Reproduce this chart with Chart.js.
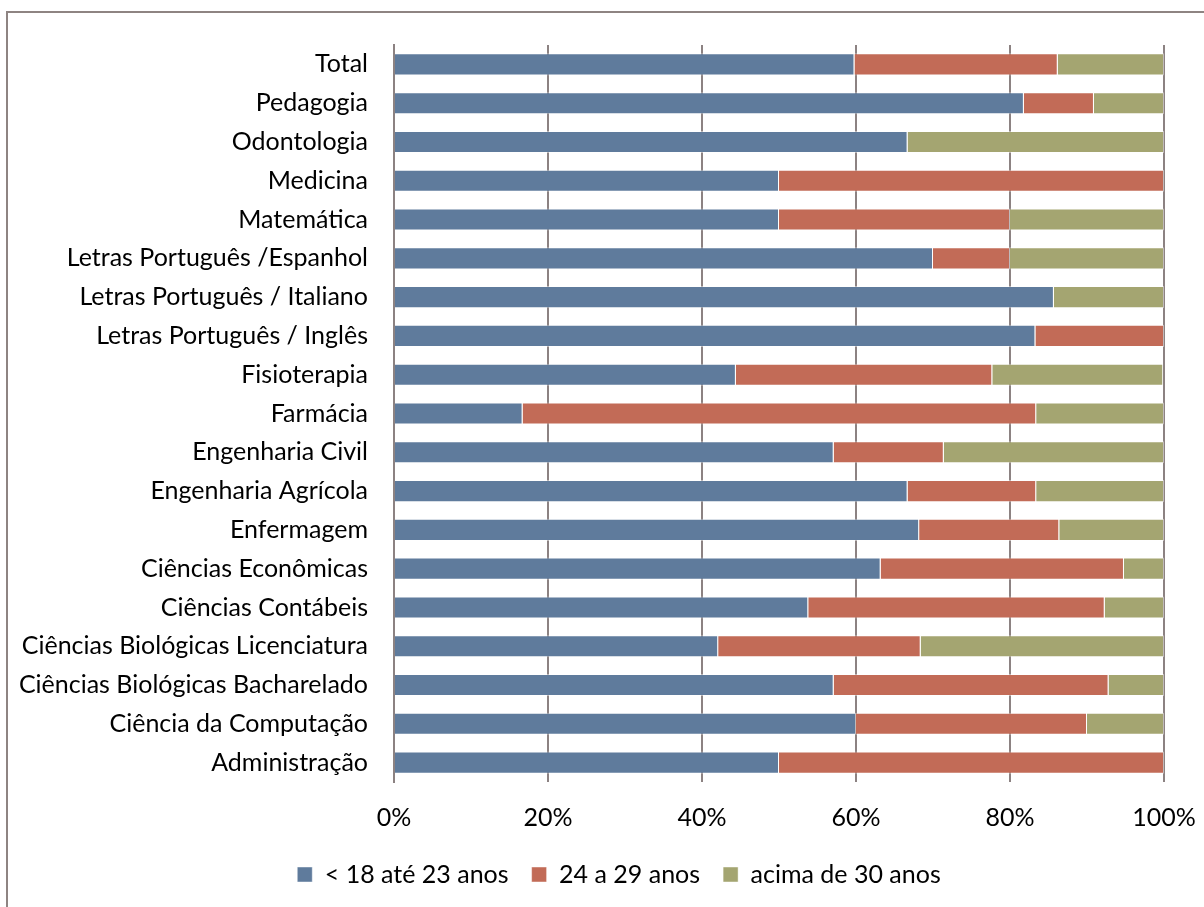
<!DOCTYPE html>
<html>
<head>
    <meta charset="UTF-8">
    <title>Faixa etária por curso</title>
    <script src="https://cdn.jsdelivr.net/npm/chart.js@4"></script>
    <style>
        html, body { margin: 0; padding: 0; background: #fff; overflow: hidden; }
        #frame { position: absolute; left: 6px; top: 11px; width: 1300px; height: 1000px; border: 2px solid #8e8482; }
        #chart { position: absolute; left: 0; top: 0; }
    </style>
</head>
<body>
    <div id="frame"></div>
    <canvas id="chart" width="1204" height="907"></canvas>
    <script>
        // cursos, de cima para baixo
        const cursos = [
            'Total', 'Pedagogia', 'Odontologia', 'Medicina', 'Matemática',
            'Letras Português /Espanhol', 'Letras Português / Italiano', 'Letras Português / Inglês',
            'Fisioterapia', 'Farmácia', 'Engenharia Civil', 'Engenharia Agrícola', 'Enfermagem',
            'Ciências Econômicas', 'Ciências Contábeis', 'Ciências Biológicas Licenciatura',
            'Ciências Biológicas Bacharelado', 'Ciência da Computação', 'Administração'
        ];
        const ate23 =    [59.8, 81.8, 66.7, 50, 50, 70, 85.7, 83.3, 44.4, 16.7, 57.1, 66.7, 68.2, 63.2, 53.8, 42.1, 57.1, 60, 50];
        const de24a29 =  [26.4,  9.1,  0,   50, 30, 10,  0,   16.7, 33.3, 66.7, 14.3, 16.7, 18.2, 31.6, 38.5, 26.3, 35.7, 30, 50];
        const acima30 =  [13.8,  9.1, 33.3,  0, 20, 20, 14.3,  0,   22.2, 16.6, 28.6, 16.6, 13.6,  5.2,  7.7, 31.6,  7.2, 10,  0];
        const xTicks = [0, 20, 40, 60, 80, 100];

        const fonte = 'Lato';
        const cinza = '#8c8282';

        // desloca a legenda para a posição do original
        const moveLegend = {
            id: 'moveLegend',
            afterLayout(chart) {
                const lg = chart.legend;
                lg.left += 37; lg.right += 37;
            }
        };

        new Chart(document.getElementById('chart'), {
            type: 'bar',
            data: {
                labels: cursos,
                datasets: [
                    { label: '< 18 até 23 anos', data: ate23, backgroundColor: '#5f7b9c' },
                    { label: '24 a 29 anos', data: de24a29, backgroundColor: '#c26b57' },
                    { label: 'acima de 30 anos', data: acima30, backgroundColor: '#a4a571' }
                ]
            },
            options: {
                indexAxis: 'y',
                responsive: false,
                animation: false,
                devicePixelRatio: 1,
                datasets: {
                    bar: {
                        categoryPercentage: 1,
                        barPercentage: 0.57,
                        borderWidth: 1,
                        borderColor: 'rgba(255,255,255,0.45)'
                    }
                },
                layout: { padding: { left: 0, right: 40, top: 45, bottom: 10 } },
                scales: {
                    x: {
                        stacked: true,
                        min: 0,
                        max: 100,
                        afterBuildTicks: (axis) => { axis.ticks = xTicks.map(v => ({ value: v })); },
                        afterFit: (axis) => { axis.height = 57; axis.paddingLeft = 0; axis.paddingRight = 0; },
                        ticks: {
                            callback: v => v + '%',
                            color: '#000',
                            font: { family: fonte, size: 25 },
                            padding: 21,
                            maxRotation: 0
                        },
                        grid: { color: cinza, lineWidth: 2, drawTicks: false },
                        border: { display: false }
                    },
                    y: {
                        stacked: true,
                        afterFit: (axis) => { axis.width = 394; },
                        ticks: {
                            color: '#000',
                            font: { family: fonte, size: 25 },
                            padding: 26,
                            autoSkip: false
                        },
                        grid: { display: false, drawTicks: false },
                        border: { display: true, color: cinza, width: 2 }
                    }
                },
                plugins: {
                    legend: {
                        position: 'bottom',
                        labels: {
                            color: '#000',
                            font: { family: fonte, size: 25 },
                            boxWidth: 15,
                            boxHeight: 15,
                            padding: 23
                        }
                    },
                    tooltip: { enabled: false }
                }
            },
            plugins: [moveLegend]
        });
    </script>
</body>
</html>
